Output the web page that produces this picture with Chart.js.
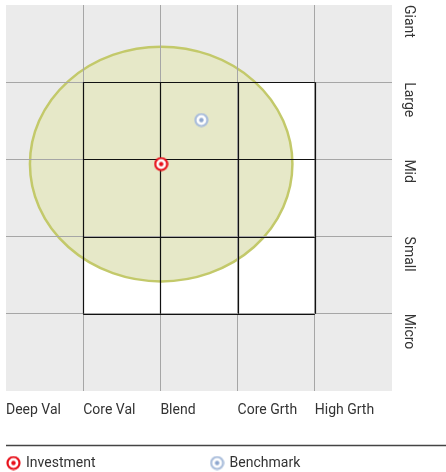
<!DOCTYPE html>
<html>
<head>
<meta charset="utf-8">
<script src="https://cdn.jsdelivr.net/npm/chart.js@4/dist/chart.umd.min.js"></script>
<style>
  html, body { margin: 0; padding: 0; background: #fff; }
  #wrap { width: 446px; height: 472px; }
</style>
</head>
<body>
<div id="wrap"><canvas id="zone"></canvas></div>
<script>
// style box categories (x) and size categories (y, bottom to top)
const styleLabels = ['Deep Val', 'Core Val', 'Blend', 'Core Grth', 'High Grth'];
const sizeLabels = ['Micro', 'Small', 'Mid', 'Large', 'Giant'];

// points, in grid units
const investmentPoint = [2.01, 2.94];
const benchmarkPoint = [2.53, 3.51];
// ownership zone radii (x, y) around the investment
const zoneRadius = [1.70, 1.52];
// the 3x3 core box: x from/to, y from/to
const coreBox = [1, 4, 1, 4];

const FONT = "'Roboto', sans-serif";
const TEXT = '#333';

function targetIcon(ring, dot) {
  const c = document.createElement('canvas');
  c.width = 15; c.height = 15;
  const g = c.getContext('2d');
  g.beginPath(); g.arc(7.5, 7.5, 6.0, 0, Math.PI * 2);
  g.fillStyle = '#fff'; g.fill();
  g.lineWidth = 2.2; g.strokeStyle = ring; g.stroke();
  g.beginPath(); g.arc(7.5, 7.5, 2.2, 0, Math.PI * 2);
  g.fillStyle = dot; g.fill();
  return c;
}
const investIcon = targetIcon('#e8101a', '#e8101a');
const benchIcon = targetIcon('#a9bddb', '#8ea7cf');

const backdrop = {
  id: 'backdrop',
  beforeDraw(chart) {
    const {ctx, chartArea: a, scales: {x, y}} = chart;
    ctx.save();
    ctx.fillStyle = '#ebebeb';
    ctx.fillRect(a.left, a.top, a.width, a.height);
    const l = x.getPixelForValue(coreBox[0]), r = x.getPixelForValue(coreBox[1]);
    const b = y.getPixelForValue(coreBox[2]), t = y.getPixelForValue(coreBox[3]);
    ctx.fillStyle = '#fff';
    ctx.fillRect(l, t, r - l, b - t);
    // ownership zone
    const cx = x.getPixelForValue(investmentPoint[0]);
    const cy = y.getPixelForValue(investmentPoint[1]);
    const rx = x.getPixelForValue(investmentPoint[0] + zoneRadius[0]) - cx;
    const ry = cy - y.getPixelForValue(investmentPoint[1] + zoneRadius[1]);
    ctx.beginPath();
    ctx.ellipse(cx, cy, rx, ry, 0, 0, Math.PI * 2);
    ctx.fillStyle = '#e6e8c8';
    ctx.fill();
    ctx.lineWidth = 2.5;
    ctx.strokeStyle = '#c3c96a';
    ctx.stroke();
    ctx.restore();
  },
  beforeDatasetsDraw(chart) {
    const {ctx, scales: {x, y}} = chart;
    const l = x.getPixelForValue(coreBox[0]), r = x.getPixelForValue(coreBox[1]);
    const b = y.getPixelForValue(coreBox[2]), t = y.getPixelForValue(coreBox[3]);
    ctx.save();
    ctx.strokeStyle = '#111';
    ctx.lineWidth = 1.2;
    ctx.beginPath();
    for (let v = coreBox[0]; v <= coreBox[1]; v++) {
      const px = Math.round(x.getPixelForValue(v)) + 0.5;
      ctx.moveTo(px, t); ctx.lineTo(px, b);
    }
    for (let v = coreBox[2]; v <= coreBox[3]; v++) {
      const py = Math.round(y.getPixelForValue(v)) + 0.5;
      ctx.moveTo(l, py); ctx.lineTo(r, py);
    }
    ctx.stroke();
    ctx.restore();
  }
};

const bottomLegend = {
  id: 'bottomLegend',
  afterDraw(chart) {
    const {ctx, width} = chart;
    const lineY = 445.5;
    const rowY = 463;
    const starts = [6, width * 0.47];
    ctx.save();
    ctx.strokeStyle = '#444';
    ctx.lineWidth = 1.5;
    ctx.beginPath(); ctx.moveTo(6, lineY); ctx.lineTo(width, lineY); ctx.stroke();
    ctx.font = '14px ' + FONT;
    ctx.fillStyle = TEXT;
    ctx.textBaseline = 'middle';
    chart.data.datasets.forEach((ds, i) => {
      ctx.drawImage(ds.pointStyle, starts[i], rowY - 7.5);
      ctx.fillText(ds.label, starts[i] + 20, rowY + 0.5);
    });
    ctx.restore();
  }
};

new Chart(document.getElementById('zone'), {
  type: 'scatter',
  data: {
    datasets: [
      { label: 'Investment', data: [{x: investmentPoint[0], y: investmentPoint[1]}], pointStyle: investIcon },
      { label: 'Benchmark', data: [{x: benchmarkPoint[0], y: benchmarkPoint[1]}], pointStyle: benchIcon }
    ]
  },
  options: {
    responsive: true,
    maintainAspectRatio: false,
    animation: false,
    layout: { padding: { left: 6, top: 5, right: 0, bottom: 51 } },
    plugins: { legend: { display: false }, tooltip: { enabled: false } },
    scales: {
      x: {
        type: 'linear', min: 0, max: styleLabels.length,
        border: { display: false },
        grid: {
          drawTicks: false,
          color: c => (c.tick.value > 0 && c.tick.value < styleLabels.length) ? '#a6a6a6' : 'rgba(0,0,0,0)'
        },
        ticks: {
          stepSize: 1, autoSkip: false, maxRotation: 0, align: 'start', padding: 11,
          color: TEXT, font: { family: FONT, size: 14 },
          callback: v => styleLabels[v] || ''
        },
        afterFit(s) { s.height = 30; s.paddingLeft = 0; s.paddingRight = 0; }
      },
      y: {
        type: 'linear', position: 'right', min: 0, max: sizeLabels.length,
        border: { display: false },
        grid: {
          drawTicks: false,
          color: c => (c.tick.value > 0 && c.tick.value < sizeLabels.length) ? '#a6a6a6' : 'rgba(0,0,0,0)'
        },
        ticks: {
          stepSize: 1, minRotation: -90, maxRotation: -90, padding: 16,
          color: TEXT, font: { family: FONT, size: 14 },
          callback: v => sizeLabels[v - 1] || ''
        },
        afterFit(s) { s.width = 54; s.paddingTop = 0; s.paddingBottom = 0; }
      }
    }
  },
  plugins: [backdrop, bottomLegend]
});
</script>
</body>
</html>
